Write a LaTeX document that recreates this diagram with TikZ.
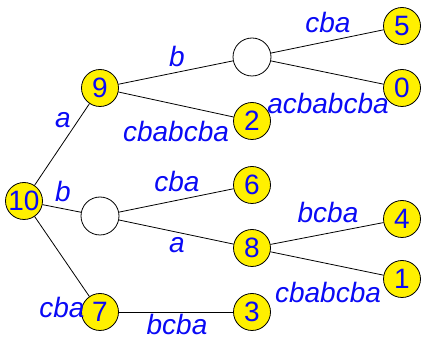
\documentclass[tikz,border=0pt]{standalone}
\usepackage{fontspec}
\setmainfont{Liberation Sans}
\definecolor{nodeyellow}{RGB}{255,240,0}
\definecolor{txtblue}{RGB}{10,10,245}
\begin{document}
\begin{tikzpicture}[x=1pt,y=-1pt,
  num/.style={circle,draw=black,fill=nodeyellow,line width=0.8pt,minimum size=37pt,inner sep=0pt,text=txtblue,font=\fontsize{28}{30}\selectfont},
  empty/.style={circle,draw=black,fill=white,line width=0.8pt,minimum size=38pt,inner sep=0pt},
  lbl/.style={text=txtblue,inner sep=0pt,font=\fontsize{28}{30}\selectfont\itshape},
  edge/.style={draw=black,line width=0.8pt}]
\useasboundingbox (0,0) rectangle (421,339);
% nodes
\node[num] (n10) at (24,201) {10};
\node[num] (n9) at (100,88) {9};
\node[empty] (e1) at (252,57) {};
\node[num] (n5) at (402,26) {5};
\node[num] (n0) at (402,88) {0};
\node[num] (n2) at (252,121) {2};
\node[empty] (e2) at (100,216) {};
\node[num] (n6) at (252,185) {6};
\node[num] (n8) at (252,248) {8};
\node[num] (n4) at (402,219) {4};
\node[num] (n1) at (402,279) {1};
\node[num] (n7) at (100,312) {7};
\node[num] (n3) at (252,312) {3};
% edges
\draw[edge] (n10) -- (n9);
\draw[edge] (n10) -- (e2);
\draw[edge] (n10) -- (n7);
\draw[edge] (n9) -- (e1);
\draw[edge] (n9) -- (n2);
\draw[edge] (e1) -- (n5);
\draw[edge] (e1) -- (n0);
\draw[edge] (e2) -- (n6);
\draw[edge] (e2) -- (n8);
\draw[edge] (n8) -- (n4);
\draw[edge] (n8) -- (n1);
\draw[edge] (n7) -- (n3);
% labels
\node[lbl] (la) at (63,120) {a};
\node[lbl] (lb) at (177,56) {b};
\node[lbl] (lcbabcba1) at (176,131) {cbabcba};
\node[lbl] (lcba1) at (328,22) {cba};
\node[lbl] (lacb) at (328,103) {acbabcba};
\node[lbl] (lb2) at (63,191) {b};
\node[lbl] (lcba2) at (177,181) {cba};
\node[lbl] (la2) at (177,245) {a};
\node[lbl] (lbcba1) at (328,212) {bcba};
\node[lbl] (lcbabcba2) at (328,292) {cbabcba};
\node[lbl] (lcba3) at (62,307) {cba};
\node[lbl] (lbcba2) at (177,324) {bcba};
\end{tikzpicture}
\end{document}
